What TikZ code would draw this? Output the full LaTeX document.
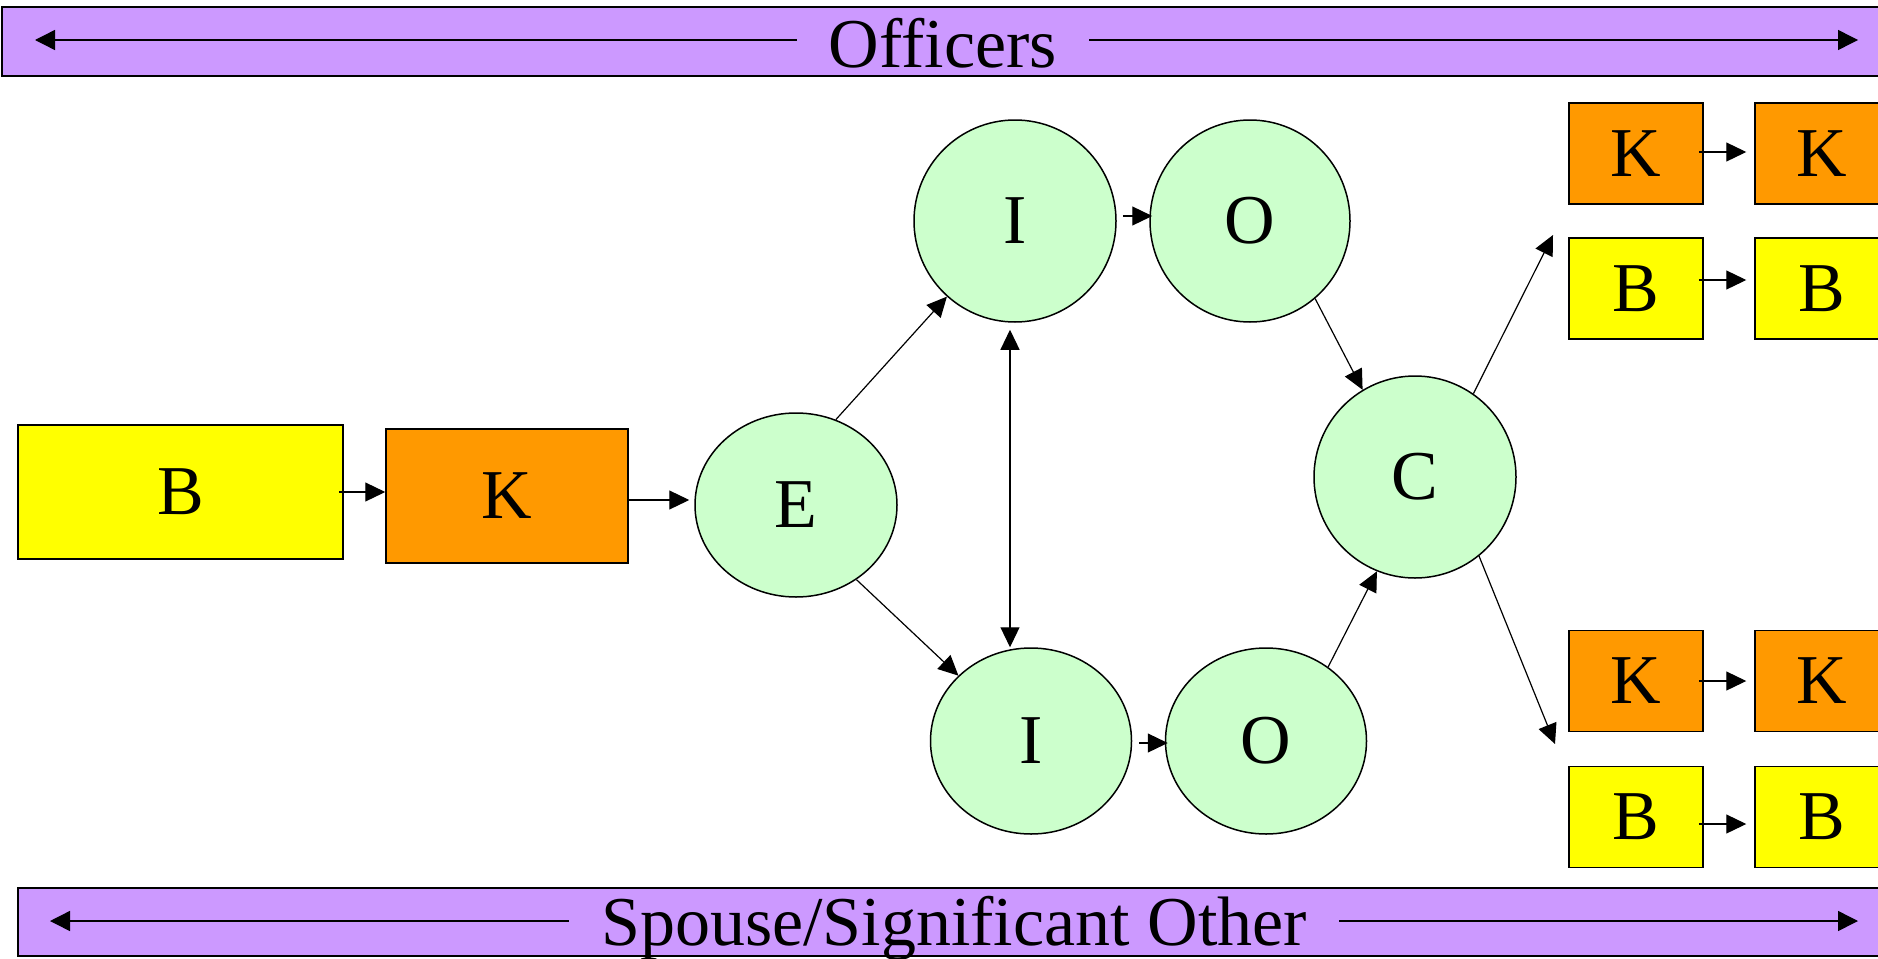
\documentclass[tikz,border=0pt]{standalone}
\usepackage{fontspec}
\setmainfont{Liberation Serif}
\usetikzlibrary{arrows.meta,shapes.geometric}
\definecolor{barpurple}{HTML}{CC99FF}
\definecolor{boxyellow}{HTML}{FFFF00}
\definecolor{boxorange}{HTML}{FF9900}
\definecolor{ovalgreen}{HTML}{CCFFCC}
\tikzset{
  every node/.style={font=\fontsize{70}{80}\selectfont},
  boxy/.style={draw=black, line width=1.5pt, rectangle, inner sep=0pt},
  ybox/.style={boxy, fill=boxyellow},
  obox/.style={boxy, fill=boxorange},
  smallbox/.style={minimum width=134pt, minimum height=101pt},
  oval/.style={draw=black, line width=1.5pt, ellipse, fill=ovalgreen, inner sep=0pt},
  bar/.style={draw=black, line width=2pt, rectangle, fill=barpurple, inner sep=0pt},
  bartext/.style={inner xsep=32pt, inner ysep=0pt, anchor=base},
  tipA/.tip={Triangle[length=20pt,width=19pt]},
  con/.style={draw, line width=1.2pt, -tipA},
  dcon/.style={draw, line width=1.2pt, tipA-tipA},
  barr/.style={draw, line width=1.4pt, -{Triangle[length=20pt,width=20pt]}}
}
\begin{document}
\begin{tikzpicture}[x=1pt,y=-1pt]
\useasboundingbox (0,0) rectangle (1878,958);
\clip (0,0) rectangle (1878,958);
% bars
\node[bar, minimum width=1898pt, minimum height=69pt] (topbar) at (951,41.5) {};
\node[bar, minimum width=1882pt, minimum height=68pt] (botbar) at (959,922) {};
\node[bartext] (otxt) at (943,67) {Officers};
\node[bartext] (btxt) at (954,945) {Spouse/Significant Other};
\coordinate (otl) at (35,40);
\coordinate (otr) at (1858,40);
\coordinate (btl) at (50,921);
\coordinate (btr) at (1858,921);
\draw[barr] (otl -| otxt.west) -- (otl);
\draw[barr] (otr -| otxt.east) -- (otr);
\draw[barr] (btl -| btxt.west) -- (btl);
\draw[barr] (btr -| btxt.east) -- (btr);
% left boxes
\node[ybox, minimum width=325pt, minimum height=134pt] (B0) at (180.5,492) {B};
\node[obox, minimum width=242pt, minimum height=134pt] (K0) at (507,496) {K};
% ovals
\node[oval, minimum width=202pt, minimum height=184pt] (E) at (796,505) {E};
\node[oval, minimum width=202pt, minimum height=202pt] (I1) at (1015,221) {I};
\node[oval, minimum width=200pt, minimum height=202pt] (O1) at (1250,221) {O};
\node[oval, minimum width=202pt, minimum height=202pt] (C) at (1415,477) {C};
\node[oval, minimum width=201pt, minimum height=186pt] (I2) at (1031,741) {I};
\node[oval, minimum width=201pt, minimum height=186pt] (O2) at (1266,741) {O};
% right boxes
\node[obox, smallbox] (K1a) at (1636,153.5) {K};
\node[obox, smallbox] (K1b) at (1822,153.5) {K};
\node[ybox, smallbox] (B1a) at (1636,288.5) {B};
\node[ybox, smallbox] (B1b) at (1822,288.5) {B};
\node[obox, smallbox] (K2a) at (1636,681) {K};
\node[obox, smallbox] (K2b) at (1822,681) {K};
\node[ybox, smallbox] (B2a) at (1636,817) {B};
\node[ybox, smallbox] (B2b) at (1822,817) {B};
% connectors
\draw[con] ([xshift=-5pt]B0.east) -- (B0.east -| K0.west);
\draw[con, shorten >=5pt] ([yshift=-4pt]K0.east) -- ([yshift=-4pt]K0.east -| E.west);
\draw[con] (E.65) -- (I1.228);
\draw[con] (E.-51) -- (I2.138);
\draw[dcon, shorten <=7pt] ([xshift=-5pt]I1.south) -- ([xshift=-5pt]I1.south |- I2.north);
\draw[con, shorten <=6pt, shorten >=-3pt] ([yshift=5pt]I1.east) -- ([yshift=5pt]O1.west);
\draw[con, shorten <=7pt, shorten >=-3pt] ([yshift=-2pt]I2.east) -- ([yshift=-2pt]O2.west);
\draw[con] (O1.-50) -- (C.121);
\draw[con] (O2.50) -- (C.248);
\coordinate (cu) at (1553,235);
\coordinate (cd) at (1555,744);
\draw[con] (C.55) -- (cu);
\draw[con] (C.-51) -- (cd);
\draw[con, shorten >=8pt] ([xshift=-5pt,yshift=1.5pt]K1a.east) -- ([yshift=1.5pt]K1a.east -| K1b.west);
\draw[con, shorten >=8pt] ([xshift=-5pt,yshift=8.5pt]B1a.east) -- ([yshift=8.5pt]B1a.east -| B1b.west);
\draw[con, shorten >=8pt] ([xshift=-5pt]K2a.east) -- (K2a.east -| K2b.west);
\draw[con, shorten >=8pt] ([xshift=-5pt,yshift=-7pt]B2a.east) -- ([yshift=-7pt]B2a.east -| B2b.west);
\end{tikzpicture}
\end{document}
